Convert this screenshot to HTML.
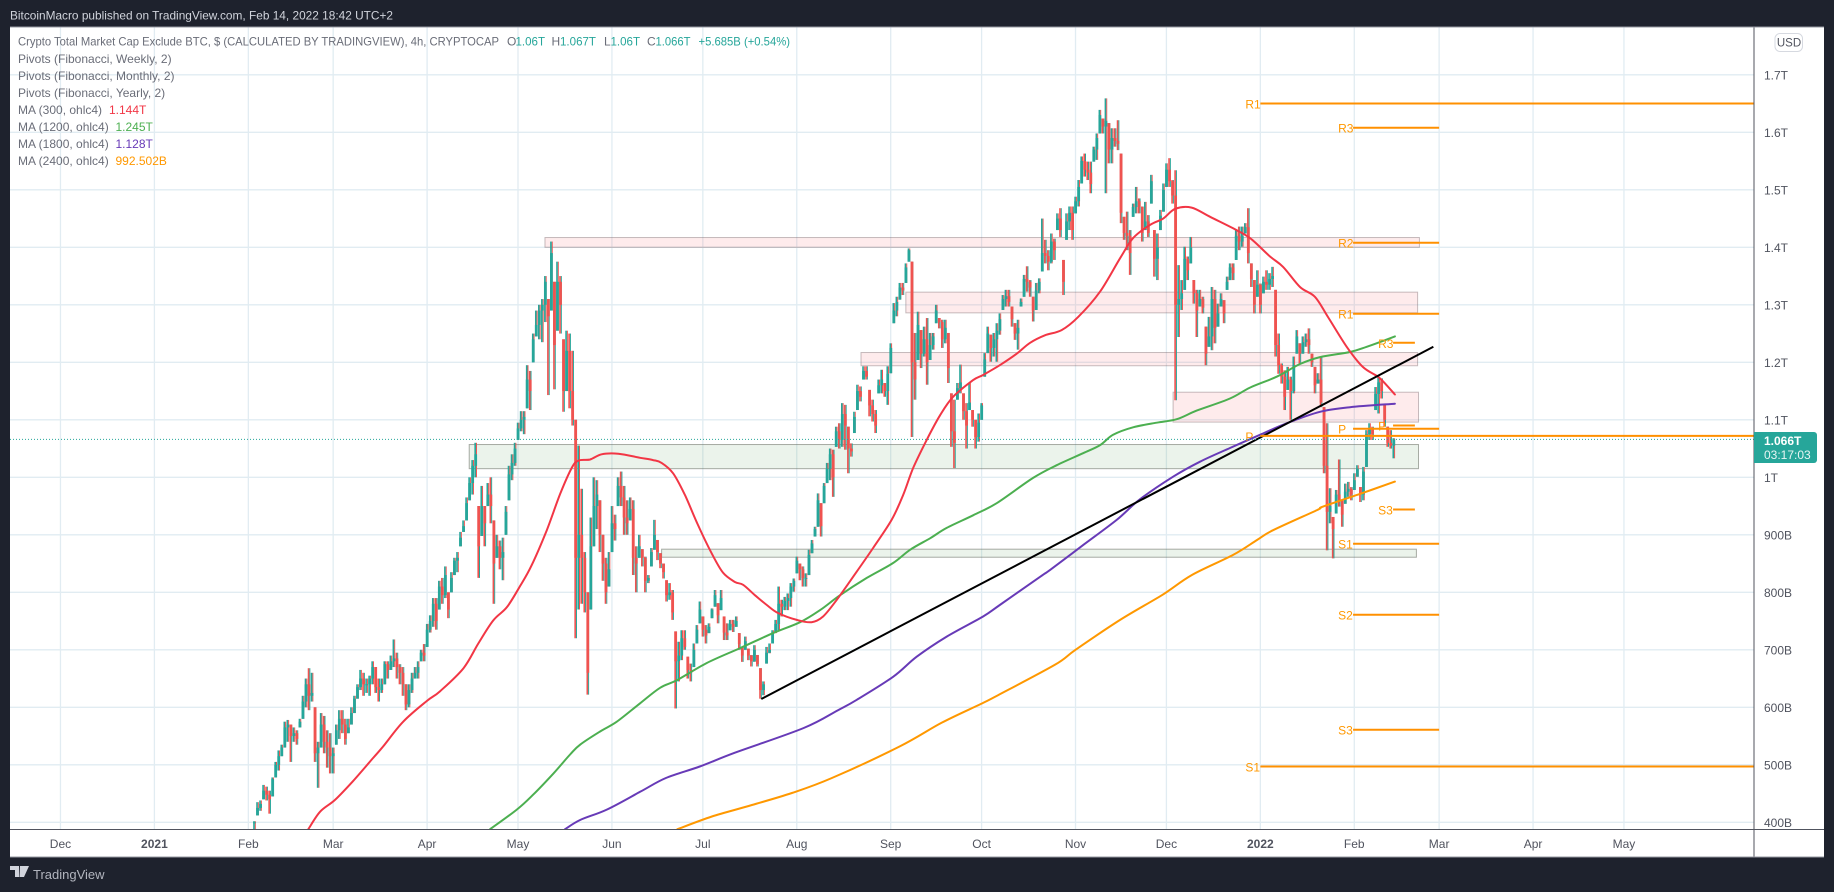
<!DOCTYPE html>
<html lang="en">
<head>
<meta charset="utf-8">
<title>Crypto Total Market Cap Exclude BTC</title>
<style>
html,body{margin:0;padding:0;background:#1e222d;width:1834px;height:892px;overflow:hidden}
svg{display:block;font-family:"Liberation Sans",sans-serif}
text{font-size:12px}
</style>
</head>
<body>
<svg id="chart" xmlns="http://www.w3.org/2000/svg" width="1834" height="892" viewBox="0 0 1834 892">
  <defs><clipPath id="plotClip"><rect x="10" y="27" width="1744" height="802"/></clipPath></defs>
  <rect x="0" y="0" width="1834" height="892" fill="#1e222d"/>
  <text x="10" y="19.5" fill="#d1d4dc" textLength="383" lengthAdjust="spacingAndGlyphs">BitcoinMacro published on TradingView.com, Feb 14, 2022 18:42 UTC+2</text>
  <rect x="10" y="27" width="1814" height="830" fill="#ffffff"/>
  <g id="gridLayer"></g>
  <g id="plotLayer" clip-path="url(#plotClip)">
    <g id="zoneLayer"></g>
    <g id="candleLayer"></g>
    <g id="maLayer"></g>
    <g id="drawLayer"></g>
    <g id="pivotLayer"></g>
  </g>
  <line id="lastLine" x1="10" x2="1754" stroke="#26a69a" stroke-width="1" stroke-dasharray="1 2"/>

  <g fill="#6a6d78">
    <text x="18" y="45.5" textLength="481" lengthAdjust="spacingAndGlyphs">Crypto Total Market Cap Exclude BTC, $ (CALCULATED BY TRADINGVIEW), 4h, CRYPTOCAP</text>
    <text x="507" y="45.5">O</text>
    <text x="515.5" y="45.5" fill="#26a69a" textLength="29.5" lengthAdjust="spacingAndGlyphs">1.06T</text>
    <text x="551.5" y="45.5">H</text>
    <text x="560" y="45.5" fill="#26a69a" textLength="36" lengthAdjust="spacingAndGlyphs">1.067T</text>
    <text x="604" y="45.5">L</text>
    <text x="610.5" y="45.5" fill="#26a69a" textLength="29.5" lengthAdjust="spacingAndGlyphs">1.06T</text>
    <text x="647" y="45.5">C</text>
    <text x="655.5" y="45.5" fill="#26a69a" textLength="35" lengthAdjust="spacingAndGlyphs">1.066T</text>
    <text x="698.5" y="45.5" fill="#26a69a" textLength="91.5" lengthAdjust="spacingAndGlyphs">+5.685B (+0.54%)</text>
    <text x="18" y="63">Pivots (Fibonacci, Weekly, 2)</text>
    <text x="18" y="80">Pivots (Fibonacci, Monthly, 2)</text>
    <text x="18" y="97">Pivots (Fibonacci, Yearly, 2)</text>
    <text x="18" y="114">MA (300, ohlc4)</text>
    <text x="109" y="114" fill="#f23645">1.144T</text>
    <text x="18" y="131">MA (1200, ohlc4)</text>
    <text x="115.5" y="131" fill="#4caf50">1.245T</text>
    <text x="18" y="148">MA (1800, ohlc4)</text>
    <text x="115.5" y="148" fill="#673ab7">1.128T</text>
    <text x="18" y="165">MA (2400, ohlc4)</text>
    <text x="115.5" y="165" fill="#ff9800">992.502B</text>
  </g>

  <g id="axisLayer">
    <rect x="1754" y="27" width="70" height="830" fill="#ffffff"/>
    <rect x="10" y="830" width="1744" height="27" fill="#ffffff"/>
    <line x1="1754" x2="1754" y1="27" y2="857" stroke="#50535e" stroke-width="1"/>
    <line x1="10" x2="1824" y1="829.5" y2="829.5" stroke="#50535e" stroke-width="1"/>
    <line x1="10" x2="1824" y1="27" y2="27" stroke="#9598a1" stroke-width="1"/>
    <line x1="10" x2="1824" y1="857" y2="857" stroke="#9598a1" stroke-width="1"/>
    <g id="priceTicks"></g>
    <g id="timeTicks"></g>
    <rect x="1775" y="33.5" width="27.5" height="18" rx="5" fill="#ffffff" stroke="#d6d9e0"/>
    <text x="1789" y="46.5" text-anchor="middle" fill="#50535e" style="font-size:11.5px">USD</text>
    <path d="M1754 432h60a3 3 0 0 1 3 3v25a3 3 0 0 1-3 3h-60z" fill="#26a69a"/>
    <text x="1764" y="445" fill="#ffffff" font-weight="bold">1.066T</text>
    <text x="1764" y="459" fill="#e6f5f3">03:17:03</text>
  </g>

  <g>
    <path d="M10 866h9v11h-4v-7h-5z M20 866h9l-5 11h-4.500z" fill="#d1d4dc"/>
    <circle cx="22" cy="868" r="1.800" fill="#d1d4dc"/>
    <text x="33" y="879" fill="#b2b5be" style="font-size:13px">TradingView</text>
  </g>
</svg>

<script>
// ---- Chart data (prices in billions USD, days counted from 2021-01-01) ----
const priceTickValues = [400,500,600,700,800,900,1000,1100,1200,1300,1400,1500,1600,1700];
const priceTickLabels = ['400B','500B','600B','700B','800B','900B','1T','1.1T','1.2T','1.3T','1.4T','1.5T','1.6T','1.7T'];
const timeTickDays = [-31,0,31,59,90,120,151,181,212,243,273,304,334,365,396,424,455,485];
const timeTickLabels = ['Dec','2021','Feb','Mar','Apr','May','Jun','Jul','Aug','Sep','Oct','Nov','Dec','2022','Feb','Mar','Apr','May'];
const lastPrice = 1066;

const firstCandleDay = 33;
const candleHighs = [
402,435,438,465,462,455,478,505,525,535,
575,578,570,565,560,580,620,650,668,660,
600,540,590,585,560,555,530,570,595,595,
580,580,600,620,640,665,660,650,655,680,
670,650,650,680,680,690,718,695,675,670,
640,640,660,670,680,700,710,745,760,790,
790,820,825,845,800,835,860,870,905,925,
965,1000,1030,1060,950,985,950,990,1000,925,
900,890,895,950,1020,1040,1060,1095,1115,1115,
1195,1185,1250,1290,1300,1310,1350,1310,1410,1340,
1375,1350,1240,1255,1250,1220,1100,1055,980,870,
800,930,1000,995,960,900,860,870,950,935,
1000,1010,985,960,965,960,880,900,
875,862,830,877,926,891,868,850,821,816,
804,732,714,734,734,688,676,711,743,784,
758,743,746,772,804,781,804,758,746,752,
752,758,729,705,723,702,691,708,691,668,
645,705,711,734,752,810,787,792,798,816,
824,862,850,845,833,874,891,914,972,955,
990,1025,1050,1048,1088,1094,1129,1126,1088,1059,
1114,1161,1158,1193,1193,1152,1135,1117,1170,1187,
1164,1193,1233,1303,1314,1338,1338,1372,1398,1375,
1251,1288,1256,1262,1277,1251,1251,1300,1277,1274,
1274,1251,1146,1135,1164,1196,1146,1129,1164,1117,
1100,1111,1129,1216,1262,1248,1251,1268,1285,1317,
1326,1326,1297,1268,1274,1311,1352,1367,1343,1314,
1338,1346,1450,1413,1395,1424,1415,1459,1468,1378,
1459,1471,1471,1488,1517,1558,1563,1549,1549,1575,
1598,1639,1624,1659,1616,1607,1607,1621,1563,1453,
1462,1430,1476,1505,1485,1471,1479,1456,1526,1430,
1424,1465,1511,1546,1555,1517,1534,1369,1343,1401,
1384,1418,1343,1326,1326,1314,1262,1279,1331,1326,
1302,1320,1308,1349,1372,1372,1430,1436,1436,1442,
1468,1372,1343,1360,1337,1349,1360,1355,1366,1326,
1250,1198,1186,1192,1175,1210,1256,1233,1245,1250,
1259,1215,1192,1181,1210,1122,1094,981,931,978,
1031,960,989,992,983,1007,1021,983,1018,1082,
1094,1088,1157,1175,1172,1128,1088,1082,1068];
const candleLows = [
388,412,420,440,438,415,445,478,490,515,
530,540,505,540,535,565,580,600,595,610,
505,460,530,520,495,485,485,535,545,555,
535,555,570,590,615,630,620,625,620,640,
625,610,625,640,650,665,670,650,640,620,
595,600,625,650,650,680,680,705,730,740,
735,770,780,790,755,800,830,835,880,905,
925,960,970,1000,825,898,880,950,920,780,
860,840,821,900,960,995,1020,1065,1080,1075,
1120,1117,1200,1245,1240,1235,1270,1143,1290,1153,
1255,1250,1114,1150,1120,1090,720,770,780,765,
622,770,880,910,870,820,780,810,870,890,
950,950,900,900,925,830,800,860,
845,800,816,845,874,856,842,824,784,787,
752,598,645,682,700,650,645,670,711,746,
723,711,729,755,775,746,769,717,717,734,
731,740,700,679,700,682,671,679,671,615,
621,676,694,711,729,734,758,769,769,775,
801,833,821,810,810,830,868,897,914,897,
955,990,995,966,1053,1050,1053,1048,1007,1036,
1077,1117,1132,1170,1170,1106,1097,1077,1146,1146,
1140,1126,1181,1268,1280,1309,1317,1338,1375,1070,
1135,1204,1190,1210,1161,1204,1222,1268,1259,1225,
1233,1164,1053,1016,1135,1146,1100,1050,1117,1088,
1050,1062,1100,1175,1216,1201,1210,1201,1248,1291,
1297,1297,1262,1239,1222,1297,1314,1323,1314,1271,
1291,1320,1358,1372,1360,1372,1378,1430,1418,1317,
1413,1430,1413,1459,1471,1511,1523,1517,1494,1549,
1552,1598,1598,1494,1546,1546,1575,1569,1442,1413,
1395,1352,1453,1459,1459,1410,1430,1418,1476,1349,
1343,1430,1462,1505,1505,1476,1134,1244,1291,1326,
1343,1372,1302,1244,1297,1285,1195,1227,1221,1233,
1262,1297,1268,1326,1343,1343,1378,1395,1401,1424,
1372,1331,1285,1314,1285,1320,1326,1326,1331,1210,
1180,1163,1117,1152,1100,1146,1215,1198,1215,1227,
1215,1192,1146,1163,1122,1007,873,920,859,937,
949,914,954,966,960,978,1001,957,960,1018,
1065,1065,1117,1111,1137,1088,1053,1050,1033];
const candleCloses = [
400,425,432,455,448,440,475,500,515,530,
565,570,550,555,545,575,610,640,620,625,
520,530,570,540,530,515,520,560,580,570,
545,565,590,615,635,650,640,640,650,670,
635,630,640,675,665,680,685,670,660,640,
605,630,650,660,670,695,690,735,750,780,
750,810,795,830,770,825,855,860,895,915,
955,990,1020,1040,880,950,920,970,950,850,
880,860,870,940,1005,1025,1050,1085,1100,1105,
1170,1150,1240,1265,1290,1300,1340,1280,1390,1230,
1340,1300,1150,1220,1150,1100,860,900,860,800,
660,880,950,970,900,850,800,840,920,910,
985,965,930,920,945,860,850,880,
860,820,825,870,900,870,850,835,795,800,
765,680,690,720,705,665,660,700,735,770,
735,725,740,770,795,760,790,730,725,745,
740,750,710,690,715,690,680,700,675,630,
640,695,700,730,745,780,775,785,790,810,
820,855,840,825,825,865,885,910,960,915,
985,1015,1040,1000,1080,1065,1110,1090,1050,1045,
1105,1150,1140,1185,1175,1125,1110,1090,1160,1170,
1150,1180,1225,1290,1305,1330,1325,1365,1395,1200,
1170,1265,1215,1240,1200,1230,1245,1290,1270,1240,
1260,1190,1080,1060,1155,1165,1115,1090,1130,1100,
1070,1095,1125,1205,1250,1225,1240,1255,1275,1310,
1315,1305,1275,1250,1260,1305,1345,1340,1330,1290,
1325,1340,1390,1385,1375,1410,1395,1450,1430,1340,
1445,1460,1430,1480,1505,1550,1535,1530,1510,1570,
1590,1630,1610,1620,1570,1590,1585,1580,1460,1425,
1420,1390,1470,1480,1470,1425,1445,1425,1515,1380,
1400,1455,1500,1535,1515,1490,1300,1310,1320,1380,
1360,1400,1320,1290,1310,1295,1215,1245,1310,1260,
1285,1310,1285,1340,1365,1355,1420,1410,1420,1435,
1390,1345,1300,1335,1300,1340,1335,1345,1350,1230,
1195,1175,1140,1170,1150,1195,1245,1215,1235,1240,
1230,1200,1160,1170,1130,1020,940,950,910,970,
960,935,975,980,970,995,1015,970,1010,1075,
1085,1075,1145,1165,1150,1100,1060,1055,1066];

const ma300Days = [50.8,54.7,59.6,65.6,72.2,75.5,82.1,89.9,94.3,102,106.9,111.8,116.3,120.7,124.5,129.5,133.9,137.7,139.9,143.8,147.6,153.1,160.3,164.6,167.4,171.2,175.1,179.4,183.9,187.7,191.6,194.3,198.2,202.1,205.8,212,216.9,220.7,225.2,230.6,237.2,243.3,247.1,250.4,254.9,259.3,263.6,270.2,273.5,279,284.6,289,293.9,299.4,304.9,312.1,318.7,323,328.6,332.9,336.9,342.3,348.4,356,361.6,368.2,372.5,378.1,383,387.3,393.5,398.8,403.8,406.7,409.4];
const ma300Values = [388,418.5,439,472,512,532,575,611,628,668,711,751,774,811,847,908,971,1016,1029,1031,1040,1041,1034,1030,1025,1007,969,917,868,834,818,813,795,778,764,752,748,758,787,827,877,926,969,1016,1065,1108,1140,1169,1178,1195,1215,1234,1247,1256,1279,1323,1381,1416,1439,1450,1467,1469,1453,1433,1416,1384,1366,1331,1314,1279,1227,1192,1175,1160,1144];
const ma1200Days = [110.8,119.6,125,131.7,137.2,140.5,147.1,152.6,160.3,166.9,172.4,182.3,193.3,204.2,213.1,219.7,226.3,235.1,243.8,249.4,256,261.5,270.2,278,290,297.8,306.5,312.1,316.4,323,330.8,337.4,344,355,361.6,370.4,378.1,384.7,394.6,400.1,409.4];
const ma1200Values = [388,422,448,485,518,535,558,575,607,634,647,677,703,729,748,769,795,825,851,874,894,912,934,955,999,1021,1042,1056,1074,1087,1095,1101,1116,1137,1156,1175,1197,1209,1218,1227,1245];
const ma1800Days = [135.5,140.5,149.3,160.3,168.8,180,191.6,214.3,225.6,231.8,243.8,251.6,261.5,273.5,279,292.3,295.6,306.5,317.6,325.3,336.2,345,355,364.9,373.7,384.7,394.6,409.4];
const ma1800Values = [388,404,422,453,477,497,521,564,595,613,653,688,723,758,778,827,839,882,926,962,1001,1027,1051,1074,1094,1114,1122,1128];
const ma2400Days = [172.6,184,197.2,210.4,223.6,246,259.8,272.8,278.4,297.2,304,318.7,332.5,342.4,356,363.9,369.2,383.7,385.7,398.9,409.4];
const ma2400Values = [388,410,430,451,477,532,573,606,621,674,700,752,795,830,865,891,908,943,949,973,992.5];

const trendDays = [200.3,422.1];
const trendValues = [614.5,1227];

const zoneStartDays = [128.9,248,233.2,336.2,103.9,167.4];
const zoneEndDays = [417.5,416.9,416.9,417.2,417.2,416.5];
const zoneTops = [1417,1322,1217,1148,1057,875];
const zoneBottoms = [1400,1286,1194,1096,1015,861];
const zoneKinds = ['resistance','resistance','resistance','resistance','support','support'];

const yearlyPivotNames = ['R1','P','S1'];
const yearlyPivotValues = [1650,1072,497];
const yearlyPivotRange = [365,528];
const monthlyPivotNames = ['R3','R2','R1','P','S1','S2','S3'];
const monthlyPivotValues = [1608,1408,1284.5,1084.5,884.5,761,561];
const monthlyPivotRange = [395.6,424];
const weeklyPivotNames = ['R3','P','S3'];
const weeklyPivotValues = [1234,1090,944];
const weeklyPivotRange = [408.8,416];

// ---- Axis functions ----
const xOf = function (day) { return 154.4 + 3.03 * day; };
const yOf = function (value) { return 477.3 - (value - 1000) * 0.575; };
const SVGNS = 'http://www.w3.org/2000/svg';
function shape(tag, parent) {
  const el = document.createElementNS(SVGNS, tag);
  parent.appendChild(el);
  return el;
}

// ---- Grid and ticks ----
const gridLayer = document.getElementById('gridLayer');
const priceTicks = document.getElementById('priceTicks');
const timeTicks = document.getElementById('timeTicks');
priceTickValues.forEach(function (v, i) {
  const g = shape('line', gridLayer);
  
  
  g.setAttribute('x1', 10); g.setAttribute('x2', 1754);
  g.setAttribute('y1', yOf(v)); g.setAttribute('y2', yOf(v));
  g.setAttribute('stroke', '#e1ecf2'); g.setAttribute('stroke-width', 1.3);
  const t = shape('text', priceTicks);
  
  
  t.setAttribute('x', 1764); t.setAttribute('y', yOf(v) + 4.5);
  t.setAttribute('fill', '#50535e');
  t.textContent = priceTickLabels[i];
});
timeTickDays.forEach(function (d, i) {
  const g = shape('line', gridLayer);
  
  
  g.setAttribute('x1', xOf(d)); g.setAttribute('x2', xOf(d));
  g.setAttribute('y1', 27); g.setAttribute('y2', 829);
  g.setAttribute('stroke', '#e1ecf2'); g.setAttribute('stroke-width', 1.3);
  const t = shape('text', timeTicks);
  
  
  t.setAttribute('x', xOf(d)); t.setAttribute('y', 848);
  t.setAttribute('text-anchor', 'middle');
  t.setAttribute('fill', '#50535e');
  if (timeTickLabels[i].length === 4) { t.setAttribute('font-weight', 'bold'); }
  t.textContent = timeTickLabels[i];
});

// ---- Zones ----
const zoneLayer = document.getElementById('zoneLayer');
zoneStartDays.forEach(function (d, i) {
  const r = shape('rect', zoneLayer);
  
  
  r.setAttribute('x', xOf(d));
  r.setAttribute('width', xOf(zoneEndDays[i]) - xOf(d));
  r.setAttribute('y', yOf(zoneTops[i]));
  r.setAttribute('height', yOf(zoneBottoms[i]) - yOf(zoneTops[i]));
  r.setAttribute('fill', zoneKinds[i] === 'resistance' ? 'rgba(242,54,69,0.1)' : 'rgba(76,150,70,0.11)');
  r.setAttribute('stroke', zoneKinds[i] === 'resistance' ? 'rgba(120,100,105,0.42)' : 'rgba(100,105,95,0.55)');
  r.setAttribute('stroke-width', 1);
});

// ---- Candles: each daily mark shows the mixed intraday colours of the 4h bars ----
const candleLayer = document.getElementById('candleLayer');
candleCloses.forEach(function (close, i) {
  const day = firstCandleDay + i;
  const high = candleHighs[i];
  const low = candleLows[i];
  const rawOpen = i === 0 ? close : candleCloses[i - 1];
  const open = Math.max(low, Math.min(high, rawOpen));
  const colour = close >= open ? '#26a69a' : '#ef5350';
  const counter = close >= open ? '#ef5350' : '#26a69a';
  const mix = shape('line', candleLayer);
  
  
  mix.setAttribute('x1', xOf(day) + 0.9); mix.setAttribute('x2', xOf(day) + 0.9);
  mix.setAttribute('y1', yOf(high)); mix.setAttribute('y2', yOf(low));
  mix.setAttribute('stroke', counter); mix.setAttribute('stroke-width', 1);
  const wick = shape('line', candleLayer);
  
  
  wick.setAttribute('x1', xOf(day) - 0.4); wick.setAttribute('x2', xOf(day) - 0.4);
  wick.setAttribute('y1', yOf(high)); wick.setAttribute('y2', yOf(low));
  wick.setAttribute('stroke', colour); wick.setAttribute('stroke-width', 1.6);
  const body = shape('rect', candleLayer);
  
  
  body.setAttribute('x', xOf(day) - 1.3);
  body.setAttribute('width', 2.8);
  body.setAttribute('y', yOf(Math.max(open, close)));
  body.setAttribute('height', Math.max(1, Math.abs(yOf(open) - yOf(close))));
  body.setAttribute('fill', colour);
});

// ---- Moving averages (smooth curve through the read values) ----
const maLayer = document.getElementById('maLayer');
function curveOf(days, values) {
  const pts = days.map(function (d, i) { return [xOf(d), yOf(values[i])]; });
  let path = 'M' + pts[0][0].toFixed(1) + ' ' + pts[0][1].toFixed(1);
  for (let i = 0; i < pts.length - 1; i++) {
    const p0 = pts[Math.max(0, i - 1)];
    const p1 = pts[i];
    const p2 = pts[i + 1];
    const p3 = pts[Math.min(pts.length - 1, i + 2)];
    const c1x = p1[0] + (p2[0] - p0[0]) / 6;
    const c1y = p1[1] + (p2[1] - p0[1]) / 6;
    const c2x = p2[0] - (p3[0] - p1[0]) / 6;
    const c2y = p2[1] - (p3[1] - p1[1]) / 6;
    path += 'C' + c1x.toFixed(1) + ' ' + c1y.toFixed(1) + ' ' + c2x.toFixed(1) + ' ' + c2y.toFixed(1) + ' ' + p2[0].toFixed(1) + ' ' + p2[1].toFixed(1);
  }
  return path;
}
const ma2400Line = shape('path', maLayer);


ma2400Line.setAttribute('d', curveOf(ma2400Days, ma2400Values));
ma2400Line.setAttribute('stroke', '#ff9800');
const ma1800Line = shape('path', maLayer);


ma1800Line.setAttribute('d', curveOf(ma1800Days, ma1800Values));
ma1800Line.setAttribute('stroke', '#673ab7');
const ma1200Line = shape('path', maLayer);


ma1200Line.setAttribute('d', curveOf(ma1200Days, ma1200Values));
ma1200Line.setAttribute('stroke', '#4caf50');
const ma300Line = shape('path', maLayer);


ma300Line.setAttribute('d', curveOf(ma300Days, ma300Values));
ma300Line.setAttribute('stroke', '#f23645');
[ma2400Line, ma1800Line, ma1200Line, ma300Line].forEach(function (l) {
  l.setAttribute('fill', 'none');
  l.setAttribute('stroke-width', 2);
  l.setAttribute('stroke-linejoin', 'round');
  l.setAttribute('stroke-linecap', 'round');
});

// ---- Trend line ----
const trendLine = shape('line', document.getElementById('drawLayer'));


trendLine.setAttribute('x1', xOf(trendDays[0])); trendLine.setAttribute('y1', yOf(trendValues[0]));
trendLine.setAttribute('x2', xOf(trendDays[1])); trendLine.setAttribute('y2', yOf(trendValues[1]));
trendLine.setAttribute('stroke', '#000000'); trendLine.setAttribute('stroke-width', 2);

// ---- Pivots ----
const pivotLayer = document.getElementById('pivotLayer');
function drawPivots(names, values, range, period) {
  names.forEach(function (name, i) {
    const l = shape('line', pivotLayer);
    
    
    l.setAttribute('x1', xOf(range[0])); l.setAttribute('x2', xOf(range[1]));
    l.setAttribute('y1', yOf(values[i])); l.setAttribute('y2', yOf(values[i]));
    l.setAttribute('stroke', '#ff9000'); l.setAttribute('stroke-width', 2);
    const t = shape('text', pivotLayer);
    
    
    t.setAttribute('x', xOf(range[0]) - 15);
    t.setAttribute('y', yOf(values[i]) + 5);
    t.setAttribute('fill', '#ff9800');
    t.textContent = name;
  });
}
drawPivots(yearlyPivotNames, yearlyPivotValues, yearlyPivotRange, 'yearly');
drawPivots(monthlyPivotNames, monthlyPivotValues, monthlyPivotRange, 'monthly');
drawPivots(weeklyPivotNames, weeklyPivotValues, weeklyPivotRange, 'weekly');

// ---- Last price line ----
const lastLine = document.getElementById('lastLine');
lastLine.setAttribute('y1', yOf(lastPrice));
lastLine.setAttribute('y2', yOf(lastPrice));
</script>
</body>
</html>
